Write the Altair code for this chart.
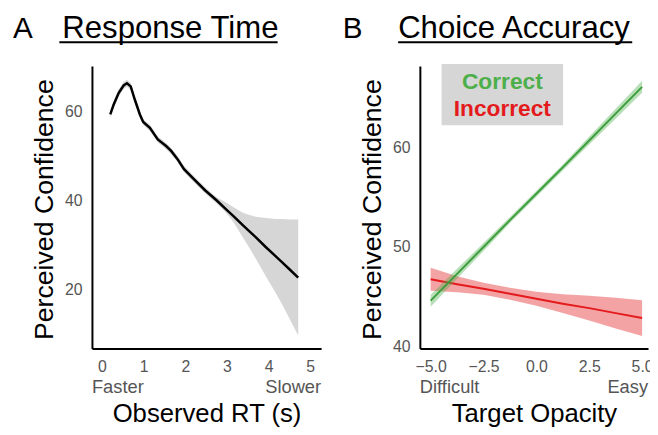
import altair as alt
import pandas as pd

FONT = "Liberation Sans"
W, H = 650, 427
AX_Y = 342  # pixel row of both x-axes

# ---------------- Panel A: Response Time ----------------
rt_x = [0.20, 0.28, 0.40, 0.52, 0.60, 0.69, 0.79, 0.91, 0.99, 1.15, 1.34, 1.54, 1.66, 1.81,
        1.97, 2.20, 2.48, 2.75, 3.00, 3.15, 3.38, 3.54, 3.69, 3.93, 4.16, 4.32, 4.50, 4.71]
rt_fit = [59.3, 61.5, 64.1, 65.8, 66.3, 65.6, 62.6, 59.3, 57.6, 56.3, 53.7, 52.2, 51.1, 49.3,
          47.0, 44.8, 42.2, 40.0, 37.8, 36.5, 34.4, 33.0, 31.7, 29.5, 27.5, 26.1, 24.5, 22.6]
rt_upper = [60.1, 62.3, 64.9, 66.6, 67.1, 66.4, 63.4, 60.0, 58.3, 57.0, 54.4, 52.9, 51.8, 50.0,
            47.7, 45.5, 42.9, 40.7, 39.4, 38.5, 37.2, 36.7, 36.3, 36.0, 35.8, 35.8, 35.7, 35.7]
rt_lower = [58.5, 60.7, 63.3, 65.0, 65.5, 64.8, 61.8, 58.6, 56.9, 55.6, 53.0, 51.5, 50.4, 48.6,
            46.3, 44.1, 41.5, 39.3, 37.0, 35.2, 31.7, 29.3, 26.9, 23.0, 19.3, 16.7, 13.4, 9.6]
rt_ticks = [0, 1, 2, 3, 4, 5]
conf_ticks_a = [20, 40, 60]
rt_ends = ["Faster", "Slower"]

# ---------------- Panel B: Choice Accuracy ----------------
op_x = [-5.0, -3.75, -2.5, -1.25, 0.0, 1.25, 2.5, 3.75, 5.0]
correct_fit = [44.6, 47.3, 50.0, 52.7, 55.35, 58.0, 60.7, 63.4, 66.1]
correct_upper = [45.2, 47.8, 50.4, 53.0, 55.65, 58.3, 61.1, 63.9, 66.7]
correct_lower = [44.0, 46.8, 49.6, 52.4, 55.05, 57.7, 60.3, 62.9, 65.5]
incorrect_fit = [46.75, 46.25, 45.8, 45.3, 44.8, 44.3, 43.85, 43.35, 42.85]
incorrect_upper = [47.9, 47.05, 46.4, 45.9, 45.5, 45.25, 45.1, 44.9, 44.65]
incorrect_lower = [45.6, 45.45, 45.2, 44.7, 44.1, 43.35, 42.6, 41.8, 41.05]
op_ticks = [-5.0, -2.5, 0.0, 2.5, 5.0]
conf_ticks_b = [40, 50, 60]
op_ends = ["Difficult", "Easy"]
groups = ["Correct", "Incorrect"]
group_colors = ["#4DAF4A", "#E41A1C"]

dfA = pd.DataFrame({"rt": rt_x, "fit": rt_fit, "lo": rt_lower, "hi": rt_upper})
dfB = pd.DataFrame({"op": op_x, "c_fit": correct_fit, "c_lo": correct_lower, "c_hi": correct_upper,
                    "i_fit": incorrect_fit, "i_lo": incorrect_lower, "i_hi": incorrect_upper})
dummy = pd.DataFrame({"t": [""]})

xA = alt.Scale(domain=[-0.24, 5.26], range=[85, 317], nice=False, zero=False)
yA = alt.Scale(domain=[6.7, 70.2], range=[342, 56], nice=False, zero=False)
xB = alt.Scale(domain=[-5.51, 5.28], range=[417, 648], nice=False, zero=False)
yB = alt.Scale(domain=[39.8, 68.2], range=[342, 56], nice=False, zero=False)


def x_axis(title, values, fmt=None):
    kw = dict(orient="bottom", offset=-(H - AX_Y), values=values, title=title, grid=False,
              ticks=False, domainColor="black", domainWidth=2, labelFont=FONT, labelFontSize=16,
              labelColor="#555555", labelPadding=10, labelFlush=False, labelOverlap=False,
              titleFont=FONT, titleFontSize=26, titleFontWeight="normal", titleColor="black",
              titleY=74, titleBaseline="alphabetic")
    if fmt:
        kw["format"] = fmt
    return alt.Axis(**kw)


def y_axis(title, values, xpos):
    return alt.Axis(orient="left", offset=-xpos, values=values, title=title, grid=False,
                    ticks=False, domainColor="black", domainWidth=2, labelFont=FONT,
                    labelFontSize=16, labelColor="#555555", labelPadding=10, labelOverlap=False,
                    titleFont=FONT, titleFontSize=27, titleFontWeight="normal",
                    titleColor="black", titleX=-40, titleY=201, titleBaseline="alphabetic",
                    titleAngle=270)


axXA = x_axis("Observed RT (s)", rt_ticks)
axYA = y_axis("Perceived Confidence", conf_ticks_a, 85)
axXB = x_axis("Target Opacity", op_ticks, ".1f")
axYB = y_axis("Perceived Confidence", conf_ticks_b, 417)


def text_chart(txt, x, y, size, align="left", weight="normal", color="black"):
    return alt.Chart(pd.DataFrame({"t": [txt]})).mark_text(
        align=align, baseline="alphabetic", font=FONT, fontSize=size,
        fontWeight=weight, color=color).encode(text="t:N", x=alt.value(x), y=alt.value(y))


def underline(x1, x2, y):
    return alt.Chart(dummy).mark_rule(color="black", strokeWidth=2).encode(
        x=alt.value(x1), x2=alt.value(x2), y=alt.value(y))


def end_label(txt, pos, align, scale, axis):
    return alt.Chart(pd.DataFrame({"t": [txt], "pos": [pos]})).mark_text(
        align=align, baseline="alphabetic", font=FONT, fontSize=18.5, color="#555555").encode(
        x=alt.X("pos:Q", scale=scale, axis=axis), y=alt.value(387), text="t:N")


# Panel A layers
bandA = alt.Chart(dfA).mark_area(color="#999999", opacity=0.4).encode(
    x=alt.X("rt:Q", scale=xA, axis=axXA),
    y=alt.Y("lo:Q", scale=yA, axis=axYA, stack=None),
    y2="hi:Q")
lineA = alt.Chart(dfA).mark_line(color="black", strokeWidth=2.5).encode(
    x=alt.X("rt:Q", scale=xA, axis=axXA),
    y=alt.Y("fit:Q", scale=yA, axis=axYA))
panelA = alt.layer(
    bandA, lineA,
    end_label(rt_ends[0], -0.24, "left", xA, axXA),
    end_label(rt_ends[1], 5.26, "right", xA, axXA),
    text_chart("A", 5, 28, 30),
    text_chart("Response Time", 55, 28, 31.5),
    underline(52, 273, 32),
)

# Panel B layers
XB = alt.X("op:Q", scale=xB, axis=axXB)
bandI = alt.Chart(dfB).mark_area(color=group_colors[1], opacity=0.4).encode(
    x=XB, y=alt.Y("i_lo:Q", scale=yB, axis=axYB, stack=None), y2="i_hi:Q")
lineI = alt.Chart(dfB).mark_line(color=group_colors[1], strokeWidth=2).encode(
    x=XB, y=alt.Y("i_fit:Q", scale=yB, axis=axYB))
bandC = alt.Chart(dfB).mark_area(color=group_colors[0], opacity=0.4).encode(
    x=XB, y=alt.Y("c_lo:Q", scale=yB, axis=axYB, stack=None), y2="c_hi:Q")
lineC = alt.Chart(dfB).mark_line(color="#3E9E3E", strokeWidth=2).encode(
    x=XB, y=alt.Y("c_fit:Q", scale=yB, axis=axYB))
legend_box = alt.Chart(dummy).mark_rect(color="#D6D6D6").encode(
    x=alt.value(439), x2=alt.value(562), y=alt.value(54), y2=alt.value(116))
panelB = alt.layer(
    bandI, lineI, bandC, lineC,
    end_label(op_ends[0], -5.51, "left", xB, axXB),
    end_label(op_ends[1], 5.28, "right", xB, axXB),
    legend_box,
    text_chart(groups[0], 500.5, 79, 23, "center", "bold", group_colors[0]),
    text_chart(groups[1], 500.5, 107, 23, "center", "bold", group_colors[1]),
    text_chart("B", 339, 28, 30),
    text_chart("Choice Accuracy", 395, 28, 31.5),
    underline(395, 632, 32),
)

chart = alt.layer(panelA, panelB).resolve_scale(
    x="independent", y="independent"
).properties(
    width=W, height=H, padding=0, autosize=alt.AutoSizeParams(type="none")
).configure_view(stroke=None)

chart.save("out.html", embed_options={"renderer": "svg", "actions": False})
